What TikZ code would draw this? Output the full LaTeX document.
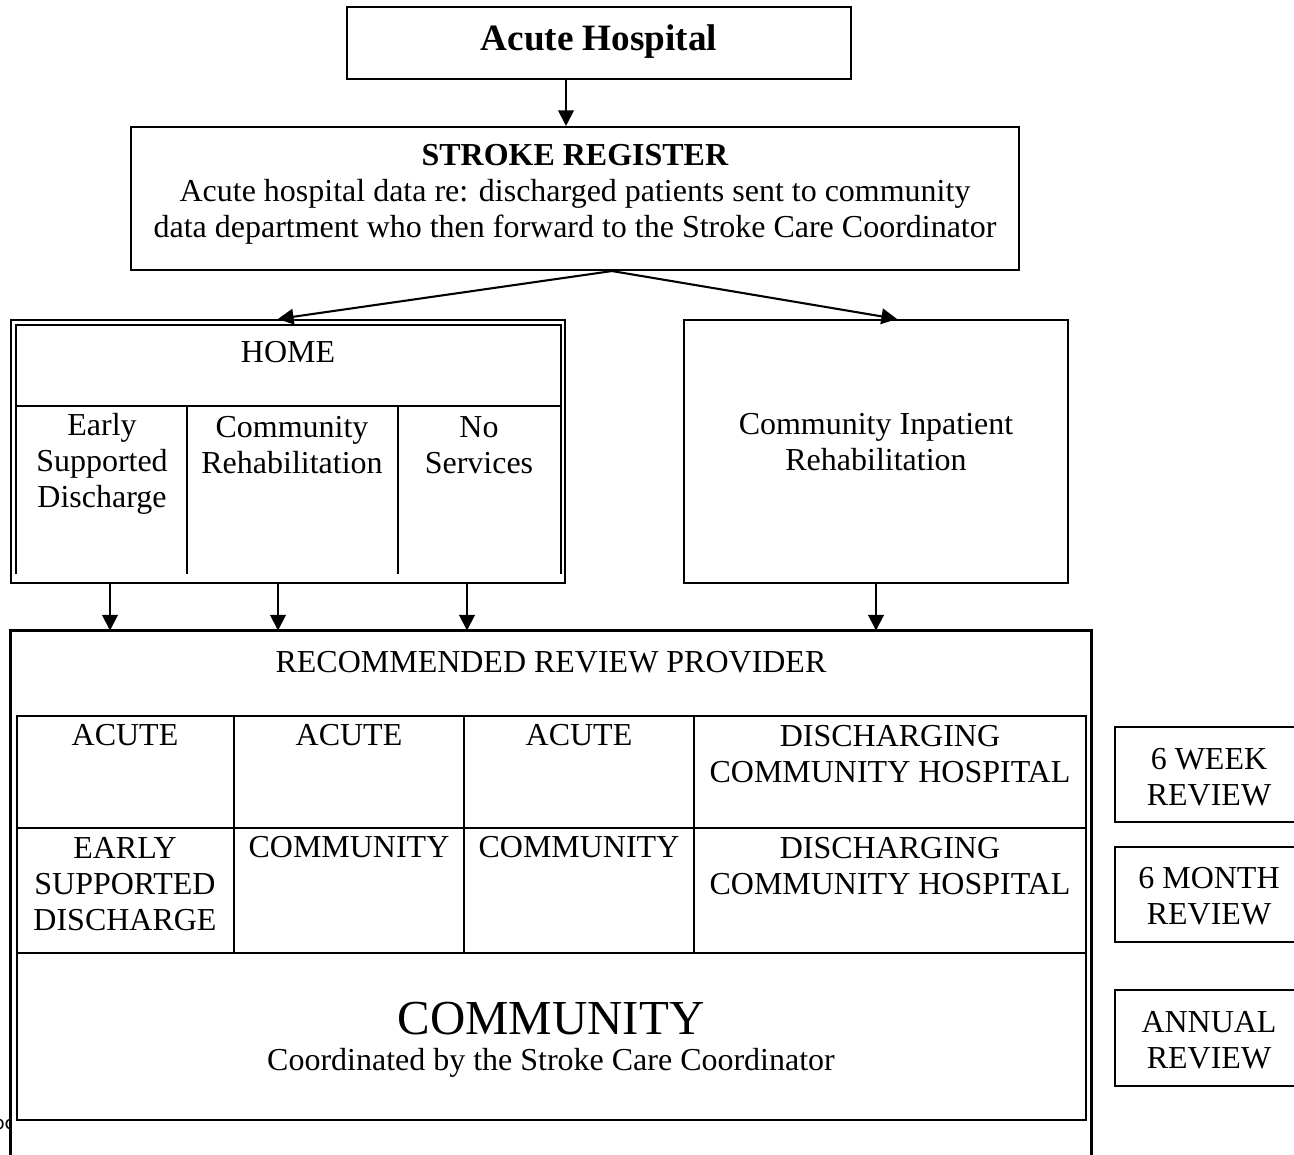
\documentclass[tikz,border=0pt]{standalone}
\usepackage{fontspec}
\setmainfont{Liberation Serif}
\newfontfamily\footfont{DejaVu Sans}
\usetikzlibrary{arrows.meta,positioning,fit,calc}

\tikzset{
  box/.style={draw, line width=0.8pt, inner sep=0pt, fill=white},
  cell/.style={draw, line width=0.8pt, inner sep=0pt},
  lbl/.style={inner sep=0pt, align=center, font=\fontsize{12.3}{13.9}\selectfont},
  arr/.style={line width=0.8pt, -{Triangle[length=6pt,width=6pt]}},
}

\begin{document}
\begin{tikzpicture}[x=0.3846pt, y=-0.3846pt]
  \useasboundingbox (0,0) rectangle (1294,1155);
  \clip (0,0) rectangle (1294,1155);

  % acute hospital and register
  \node[box, fit={(347,7) (851,79)}] (acute) {};
  \node[lbl, font=\fontsize{14.3}{16}\selectfont\bfseries] (acutetext) at (599,42) {Acute Hospital};
  \node[box, fit={(131,127) (1019,270)}] (register) {};
  \node[lbl] (regtext) at (575,194) {\textbf{STROKE REGISTER}\\
    Acute hospital data re: discharged patients sent to community\\
    data department who then forward to the Stroke Care Coordinator};

  % discharge destinations
  \node[box, fit={(11,320) (565,583)}] (home) {};
  \draw[line width=0.8pt] (16,574) |- (561,325) -- (561,574);
  \draw[line width=0.8pt] (16,406) -- (561,406) (187,406) -- (187,574) (398,406) -- (398,574);
  \node[lbl] (hometext) at (288,352) {HOME};
  \node[lbl] (esd) at (102,464) {Early\\Supported\\Discharge};
  \node[lbl] (commrehab) at (292,445) {Community\\Rehabilitation};
  \node[lbl] (noserv) at (479,445) {No\\Services};

  \node[box, fit={(684,320) (1068,583)}] (cir) {};
  \node[lbl] (cirtext) at (876,442) {Community Inpatient\\Rehabilitation};

  % review provider
  \node[anchor=west, inner sep=0pt, font=\footfont\fontsize{7}{8}\selectfont] (footer) at (-21,1123) {Doc};
  \node[fit={(11,631) (1091,1165)}, inner sep=0pt, fill=white] (review) {};
  \draw[line width=0.8pt] (review.south west) |- (review.north east) -- (review.south east);
  \node[lbl] (revtext) at (551,662) {RECOMMENDED REVIEW PROVIDER};

  \foreach \r/\ya/\yb in {1/716/828, 2/828/953}
    \foreach \c/\xa/\xb in {1/17/234, 2/234/464, 3/464/694, 4/694/1086}
      \node[cell, fit={(\xa,\ya) (\xb,\yb)}] (c\r\c) {};
  \node[cell, fit={(17,953) (1086,1120)}] (c31) {};

  \node[lbl] at (125,735) {ACUTE};
  \node[lbl] at (349,735) {ACUTE};
  \node[lbl] at (579,735) {ACUTE};
  \node[lbl] at (890,754) {DISCHARGING\\COMMUNITY HOSPITAL};
  \node[lbl] at (125,884) {EARLY\\SUPPORTED\\DISCHARGE};
  \node[lbl] at (349,847) {COMMUNITY};
  \node[lbl] at (579,847) {COMMUNITY};
  \node[lbl] at (890,866) {DISCHARGING\\COMMUNITY HOSPITAL};
  \node[lbl, font=\fontsize{18.8}{22}\selectfont] at (551,1019) {COMMUNITY};
  \node[lbl] at (551,1063) {Coordinated by the Stroke Care Coordinator};

  % review times
  \node[box, fit={(1115,727) (1303,822)}] (week6) {};
  \node[lbl] at (1209,777) {6 WEEK\\REVIEW};
  \node[box, fit={(1115,847) (1303,942)}] (month6) {};
  \node[lbl] at (1209,896) {6 MONTH\\REVIEW};
  \node[box, fit={(1115,990) (1303,1086)}] (annual) {};
  \node[lbl] at (1209,1040) {ANNUAL\\REVIEW};

  % arrows
  \draw[arr] (acute.south -| 566,0) -- (register.north -| 566,0);
  \draw[arr] (register.south -| 612,0) -- (home.north -| 278,0);
  \draw[arr] (register.south -| 612,0) -- (cir.north -| 897,0);
  \foreach \x in {110,278,467}
    \draw[arr] (home.south -| \x,0) -- (review.north -| \x,0);
  \draw[arr] (cir.south -| 876,0) -- (review.north -| 876,0);
\end{tikzpicture}
\end{document}
